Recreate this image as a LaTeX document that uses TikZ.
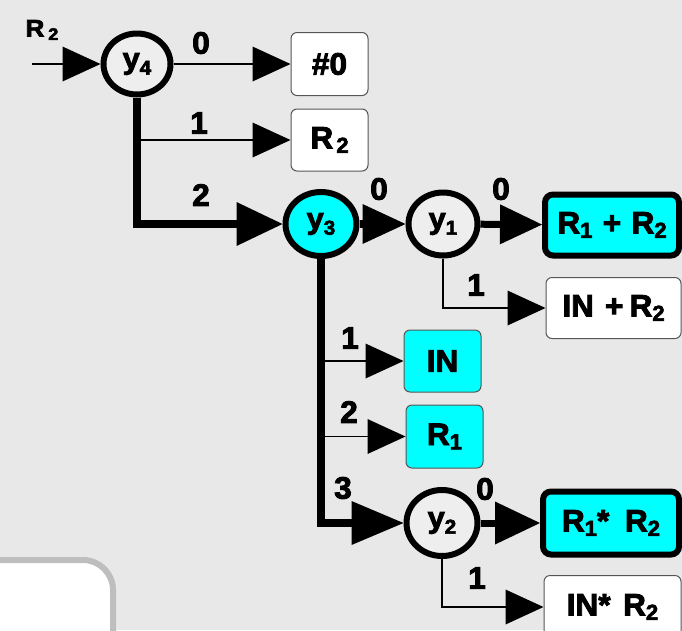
\documentclass[tikz,border=0pt]{standalone}
\usepackage{graphicx}
\usepackage{fontspec}
\setmainfont{Liberation Sans}[BoldFeatures={FakeBold=3}]
\usetikzlibrary{arrows.meta,shapes.geometric}
\definecolor{bgc}{HTML}{E8E8E8}
\definecolor{cfill}{HTML}{EEEEEE}
\definecolor{cyanc}{HTML}{00FFFF}
\definecolor{boxc}{HTML}{555555}
\definecolor{panelc}{HTML}{BEBEBE}
% text scaled from a 10pt base (slightly widened, as in the reference)
\newcommand\BT[1]{\scalebox{3.15}[3.1]{\bfseries #1}}
\newcommand\CT[1]{\scalebox{3.05}[2.95]{\bfseries #1}}
\newcommand\IT[1]{\scalebox{2.6}[2.4]{\bfseries #1}}
\newcommand\sbx[1]{\raisebox{-1.4pt}{\fontsize{7}{7}\selectfont #1}}
\newcommand\csb[1]{\raisebox{-2pt}{\fontsize{6.8}{7}\selectfont #1}}
\begin{document}
\begin{tikzpicture}[x=1pt,y=-1pt,
  decision/.style={ellipse, draw=black, line width=6pt, fill=cfill, inner sep=0pt},
  leaf/.style={rectangle, draw=boxc, line width=1pt, fill=white, rounded corners=6pt, inner sep=0pt},
  hot/.style={fill=cyanc},
  sel/.style={draw=black, line width=6pt, rounded corners=8pt},
  lbl/.style={inner sep=0pt},
  thinarr/.style={draw=black, line width=1.1pt, -{Triangle[length=38pt,width=35pt,line width=0pt]}},
  thickarr/.style={draw=black, line width=8pt, line join=miter, -{Triangle[length=46pt,width=44pt,line width=0pt]}}]
\useasboundingbox (0,0) rectangle (682,630);
\fill[bgc] (0,0) rectangle (682,630);
\draw[panelc, line width=6pt, fill=white, rounded corners=30pt] (-30,560) rectangle (113,690);

% decision nodes
\node[decision, minimum width=67pt, minimum height=61pt] (y4) at (137,64) {\CT{y\csb{4}}};
\node[decision, fill=cyanc, minimum width=71pt, minimum height=64pt] (y3) at (321,224) {\CT{y\csb{3}}};
\node[decision, minimum width=69pt, minimum height=63pt] (y1) at (443,224) {\CT{y\csb{1}}};
\node[decision, minimum width=71pt, minimum height=66pt] (y2) at (442,523) {\CT{y\csb{2}}};

% result boxes
\node[leaf, minimum width=77pt, minimum height=63pt] (b0) at (329.5,64) {\BT{\#0}};
\node[leaf, minimum width=77pt, minimum height=62pt] (bR2) at (329.5,140) {\BT{R\hspace{1pt}\sbx{2}}};
\node[leaf, hot, sel, minimum width=134pt, minimum height=61pt] (bR1R2) at (612,225) {\BT{R\sbx{1}\hspace{3.3pt}+\hspace{3.3pt}R\sbx{2}}};
\node[leaf, minimum width=135pt, minimum height=61pt] (bINR2) at (613.5,308) {\BT{IN\hspace{3.5pt}+\hspace{2pt}R\sbx{2}}};
\node[leaf, hot, minimum width=77pt, minimum height=62pt] (bIN) at (442.5,361) {\BT{IN}};
\node[leaf, hot, minimum width=77pt, minimum height=63pt] (bR1) at (444.5,436.5) {\BT{R\sbx{1}}};
\node[leaf, hot, sel, minimum width=136pt, minimum height=63pt] (bR1xR2) at (611,523) {\BT{R\sbx{1}*\hspace{5pt}R\sbx{2}}};
\node[leaf, minimum width=137pt, minimum height=63pt] (bINxR2) at (612.5,607) {\BT{IN*\hspace{4pt}R\sbx{2}}};

% labels
\node[lbl] (inlbl) at (42,30) {\IT{R\hspace{1.5pt}\sbx{2}}};
\node[lbl] (l40) at (201,43) {\BT{0}};
\node[lbl] (l41) at (199,123) {\BT{1}};
\node[lbl] (l42) at (201,195) {\BT{2}};
\node[lbl] (l30) at (379,189) {\BT{0}};
\node[lbl] (l10) at (501,189) {\BT{0}};
\node[lbl] (l11) at (476,285) {\BT{1}};
\node[lbl] (l31) at (350,338) {\BT{1}};
\node[lbl] (l32) at (349,412) {\BT{2}};
\node[lbl] (l33) at (343,488) {\BT{3}};
\node[lbl] (l20) at (485,489) {\BT{0}};
\node[lbl] (l21) at (477,578) {\BT{1}};

% connectors
\coordinate (in) at (32,64);
\draw[thinarr] (in) -- (y4);
\draw[thinarr] (y4) -- (b0);
\draw[thinarr] (y4 |- bR2) -- (bR2);
\draw[thickarr] (y4.south) |- (y3);
\draw[thickarr, -{Triangle[length=43pt,width=40pt,line width=0pt]}] (y3) -- (y1);
\draw[thickarr, line width=7pt, -{Triangle[length=42pt,width=40pt,line width=0pt]}] (y1) -- (bR1R2);
\draw[thinarr] (y1.south) |- (bINR2);
\draw[thinarr] (y3 |- bIN) -- (bIN);
\draw[thinarr] (y3 |- bR1) -- (bR1);
\draw[thickarr, -{Triangle[length=52pt,width=44pt,line width=0pt]}] (y3.south) |- (y2);
\draw[thickarr, line width=7pt, -{Triangle[length=45pt,width=43pt,line width=0pt]}] (y2) -- (bR1xR2);
\draw[thinarr] (y2.south) |- (bINxR2);
\end{tikzpicture}
\end{document}
